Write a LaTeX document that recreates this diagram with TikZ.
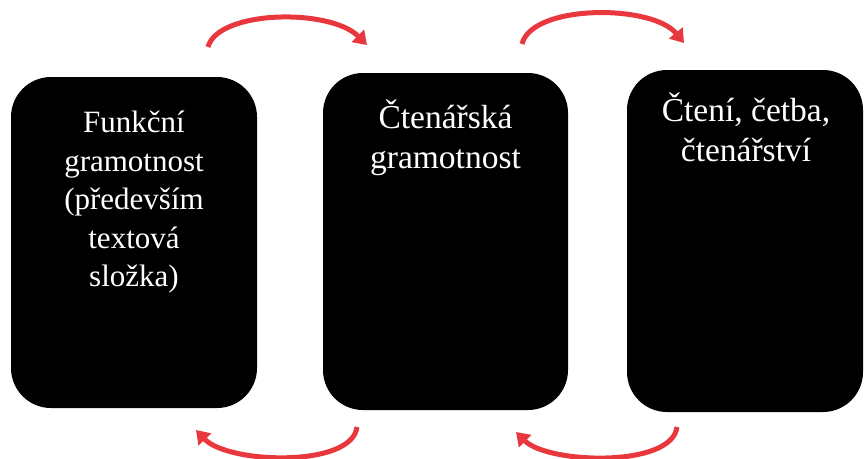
\documentclass[tikz,border=0pt]{standalone}
\usepackage{fontspec}
\setmainfont{Liberation Serif}
\usetikzlibrary{arrows.meta}
\definecolor{arrowred}{RGB}{232,56,62}
\tikzset{
  box/.style={fill=black, draw=none, rounded corners=40pt, inner sep=0pt},
  boxtext/.style={text=white, align=center, anchor=north, inner sep=0pt,
    font=\fontsize{31}{38.5}\selectfont},
  bigtext/.style={boxtext, font=\fontsize{33.5}{40}\selectfont},
  cyc/.style={draw=arrowred, line width=5pt,
    -{Triangle[length=13pt,width=17pt]}}
}
\begin{document}
\begin{tikzpicture}[x=1pt,y=-1pt]
\useasboundingbox (0,0) rectangle (865,458);
\node[box, minimum width=246pt, minimum height=331pt] (b1) at (134,242.5) {};
\node[box, minimum width=245pt, minimum height=337pt] (b2) at (445.5,241.5) {};
\node[box, minimum width=236pt, minimum height=342pt] (b3) at (745,241) {};
\node[boxtext] (t1) at (134,111) {Funkční\\gramotnost\\(především\\textová\\složka)};
\node[bigtext] (t2) at (445.5,100) {Čtenářská\\gramotnost};
\node[bigtext] (t3) at (746,93) {Čtení, četba,\\čtenářství};
\coordinate (a1s) at (208,47);
\coordinate (a1e) at (367,45);
\coordinate (a2s) at (522,44);
\coordinate (a2e) at (684,43);
\coordinate (a3s) at (357,427);
\coordinate (a3e) at (196,430);
\coordinate (a4s) at (677,427);
\coordinate (a4e) at (516,432);
\draw[cyc] (a1s) .. controls (218,10) and (330,8) .. (a1e);
\draw[cyc] (a2s) .. controls (532,4) and (652,4) .. (a2e);
\draw[cyc] (a3s) .. controls (352,468) and (228,464) .. (a3e);
\draw[cyc] (a4s) .. controls (672,468) and (548,464) .. (a4e);
\end{tikzpicture}
\end{document}
